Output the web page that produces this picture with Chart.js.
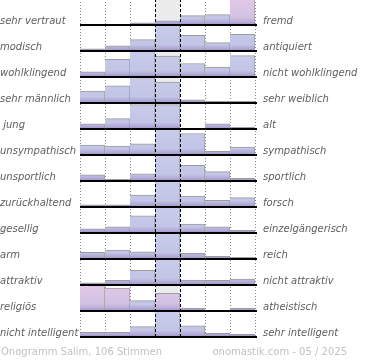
<!DOCTYPE html>
<html>
<head>
<meta charset="utf-8">
<script src="https://cdn.jsdelivr.net/npm/chart.js@4.4.1/dist/chart.umd.min.js"></script>
<style>
html, body { margin: 0; padding: 0; background: #fff; overflow: hidden; }
#wrap { position: relative; width: 370px; height: 360px; overflow: hidden; }
#onogram { position: absolute; left: 0; top: -1px; }
</style>
</head>
<body>
<div id="wrap"><canvas id="onogram" width="370" height="361"></canvas></div>
<script>
/* Datos del onograma */
var columns = ['1', '2', '3', '4', '5', '6', '7'];
var leftLabels = ['sehr vertraut', 'modisch', 'wohlklingend', 'sehr männlich', ' jung', 'unsympathisch',
	'unsportlich', 'zurückhaltend', 'gesellig', 'arm', 'attraktiv', 'religiös', 'nicht intelligent'];
var rightLabels = ['fremd', 'antiquiert', 'nicht wohlklingend', 'sehr weiblich', 'alt', 'sympathisch',
	'sportlich', 'forsch', 'einzelgängerisch', 'reich', 'nicht attraktiv', 'atheistisch', 'sehr intelligent'];
var rowValues = [
	[0, 0.5, 2, 4, 9, 10, 25],
	[2, 5, 11, 25, 15, 8, 16],
	[5, 17, 25, 20, 13, 9.5, 20.5],
	[11.5, 16.5, 24.5, 20, 3, 1.5, 1.5],
	[5, 10, 23.5, 23.5, 0, 5, 1.7],
	[9.5, 8.5, 10.7, 25, 20.7, 3.5, 7.5],
	[6, 1.5, 7, 25, 15, 9, 2.5],
	[2, 2, 11.5, 25, 10.5, 6.5, 9],
	[4, 6, 16.5, 25, 8.5, 6, 2.5],
	[6.5, 8.5, 7, 25, 5.5, 2.5, 1.5],
	[2, 4.5, 14, 25, 4.7, 4.5, 5.7],
	[25, 22, 10, 17, 2.7, 0, 2.7],
	[4.5, 4.5, 10, 25, 10.7, 3.5, 2.5]
];
/* barras que salen del rango (rosa) */
var overflowBars = [
	[0, 6], [11, 0], [11, 1], [11, 3]
];
var rowMax = 25;
var footerLeft = 'Onogramm Salim, 106 Stimmen';
var footerRight = 'onomastik.com - 05 / 2025';

/*Gradiente de una barra segun su fila*/
function barColor(ctx) {
	var chart = ctx.chart, scale = chart.scales['r' + ctx.datasetIndex], grad, pink = false, i;
	if (!scale || !chart.chartArea) {
		return '#c3c6e6';
	}
	for (i = 0; i < overflowBars.length; i++) {
		if (overflowBars[i][0] === ctx.datasetIndex && overflowBars[i][1] === ctx.dataIndex) {
			pink = true;
		}
	}
	grad = chart.ctx.createLinearGradient(0, scale.top, 0, scale.bottom);
	if (pink) {
		grad.addColorStop(0, '#e2c8e6');
		grad.addColorStop(0.7, '#d2c2e2');
		grad.addColorStop(0.88, '#bcb0da');
		grad.addColorStop(1, '#9c88c2');
	} else {
		grad.addColorStop(0, '#c8cbea');
		grad.addColorStop(0.75, '#c2c5e5');
		grad.addColorStop(0.9, '#b2aad6');
		grad.addColorStop(1, '#9c8cc4');
	}
	return grad;
}

/*Fondo, lineas y textos*/
var onogramPlugin = {
	id: 'onogram',
	beforeDatasetsDraw: function(chart) {
		var ctx = chart.ctx, area = chart.chartArea, xs = chart.scales.x,
			colW = xs.width / columns.length, i, x;
		ctx.save();
		ctx.fillStyle = '#ececec';
		ctx.fillRect(xs.left + colW * 3, area.top, colW, area.bottom - area.top);
		ctx.strokeStyle = '#8a8a8a';
		ctx.lineWidth = 1;
		ctx.setLineDash([1, 2]);
		for (i = 0; i <= columns.length; i++) {
			if (i === 3 || i === 4) continue;
			x = Math.round(xs.left + colW * i) + 0.5;
			ctx.beginPath();
			ctx.moveTo(x, area.top);
			ctx.lineTo(x, area.bottom);
			ctx.stroke();
		}
		ctx.restore();
	},
	afterDatasetsDraw: function(chart) {
		var ctx = chart.ctx, area = chart.chartArea, xs = chart.scales.x,
			colW = xs.width / columns.length, i, x, scale;
		ctx.save();
		ctx.strokeStyle = '#000';
		ctx.lineWidth = 1;
		ctx.setLineDash([3, 2]);
		for (i = 3; i <= 4; i++) {
			x = Math.round(xs.left + colW * i) + 0.5;
			ctx.beginPath();
			ctx.moveTo(x, area.top);
			ctx.lineTo(x, area.bottom);
			ctx.stroke();
		}
		ctx.setLineDash([]);
		ctx.font = 'italic 10px "DejaVu Sans"';
		ctx.textBaseline = 'alphabetic';
		for (i = 0; i < leftLabels.length; i++) {
			scale = chart.scales['r' + i];
			ctx.fillStyle = '#000';
			ctx.fillRect(xs.left, Math.round(scale.bottom) - 1, xs.width + 2, 2);
			ctx.fillStyle = '#5e5e5e';
			ctx.textAlign = 'left';
			ctx.fillText(leftLabels[i], 0, Math.round(scale.bottom) - 1);
			ctx.fillText(rightLabels[i], 263, Math.round(scale.bottom) - 1);
		}
		ctx.font = '10px "DejaVu Sans"';
		ctx.fillStyle = '#c2c2c2';
		ctx.fillText(footerLeft, 1, 356);
		ctx.textAlign = 'right';
		ctx.fillText(footerRight, 347, 356);
		ctx.restore();
	}
};

/*Construye datasets y escalas por fila*/
var datasets = [], scales = {
	x: { type: 'category', labels: columns, offset: true, display: false }
};
rowValues.forEach(function(values, i) {
	datasets.push({
		label: leftLabels[i] + ' / ' + rightLabels[i],
		data: values,
		yAxisID: 'r' + i,
		grouped: false,
		barPercentage: 1,
		categoryPercentage: 1,
		backgroundColor: barColor,
		borderColor: '#9c9c9c',
		borderWidth: { top: 1, right: 1, left: 0, bottom: 0 },
		borderSkipped: false
	});
	scales['r' + i] = {
		type: 'linear', position: 'right', stack: 'rows', stackWeight: 1, weight: i,
		min: 0, max: rowMax, display: false
	};
});

new Chart(document.getElementById('onogram'), {
	type: 'bar',
	data: { labels: columns, datasets: datasets },
	options: {
		responsive: false,
		animation: false,
		layout: { padding: { left: 80, right: 115, top: 0, bottom: 23 } },
		scales: scales,
		plugins: { legend: { display: false }, tooltip: { enabled: false } }
	},
	plugins: [onogramPlugin]
});
</script>
</body>
</html>
